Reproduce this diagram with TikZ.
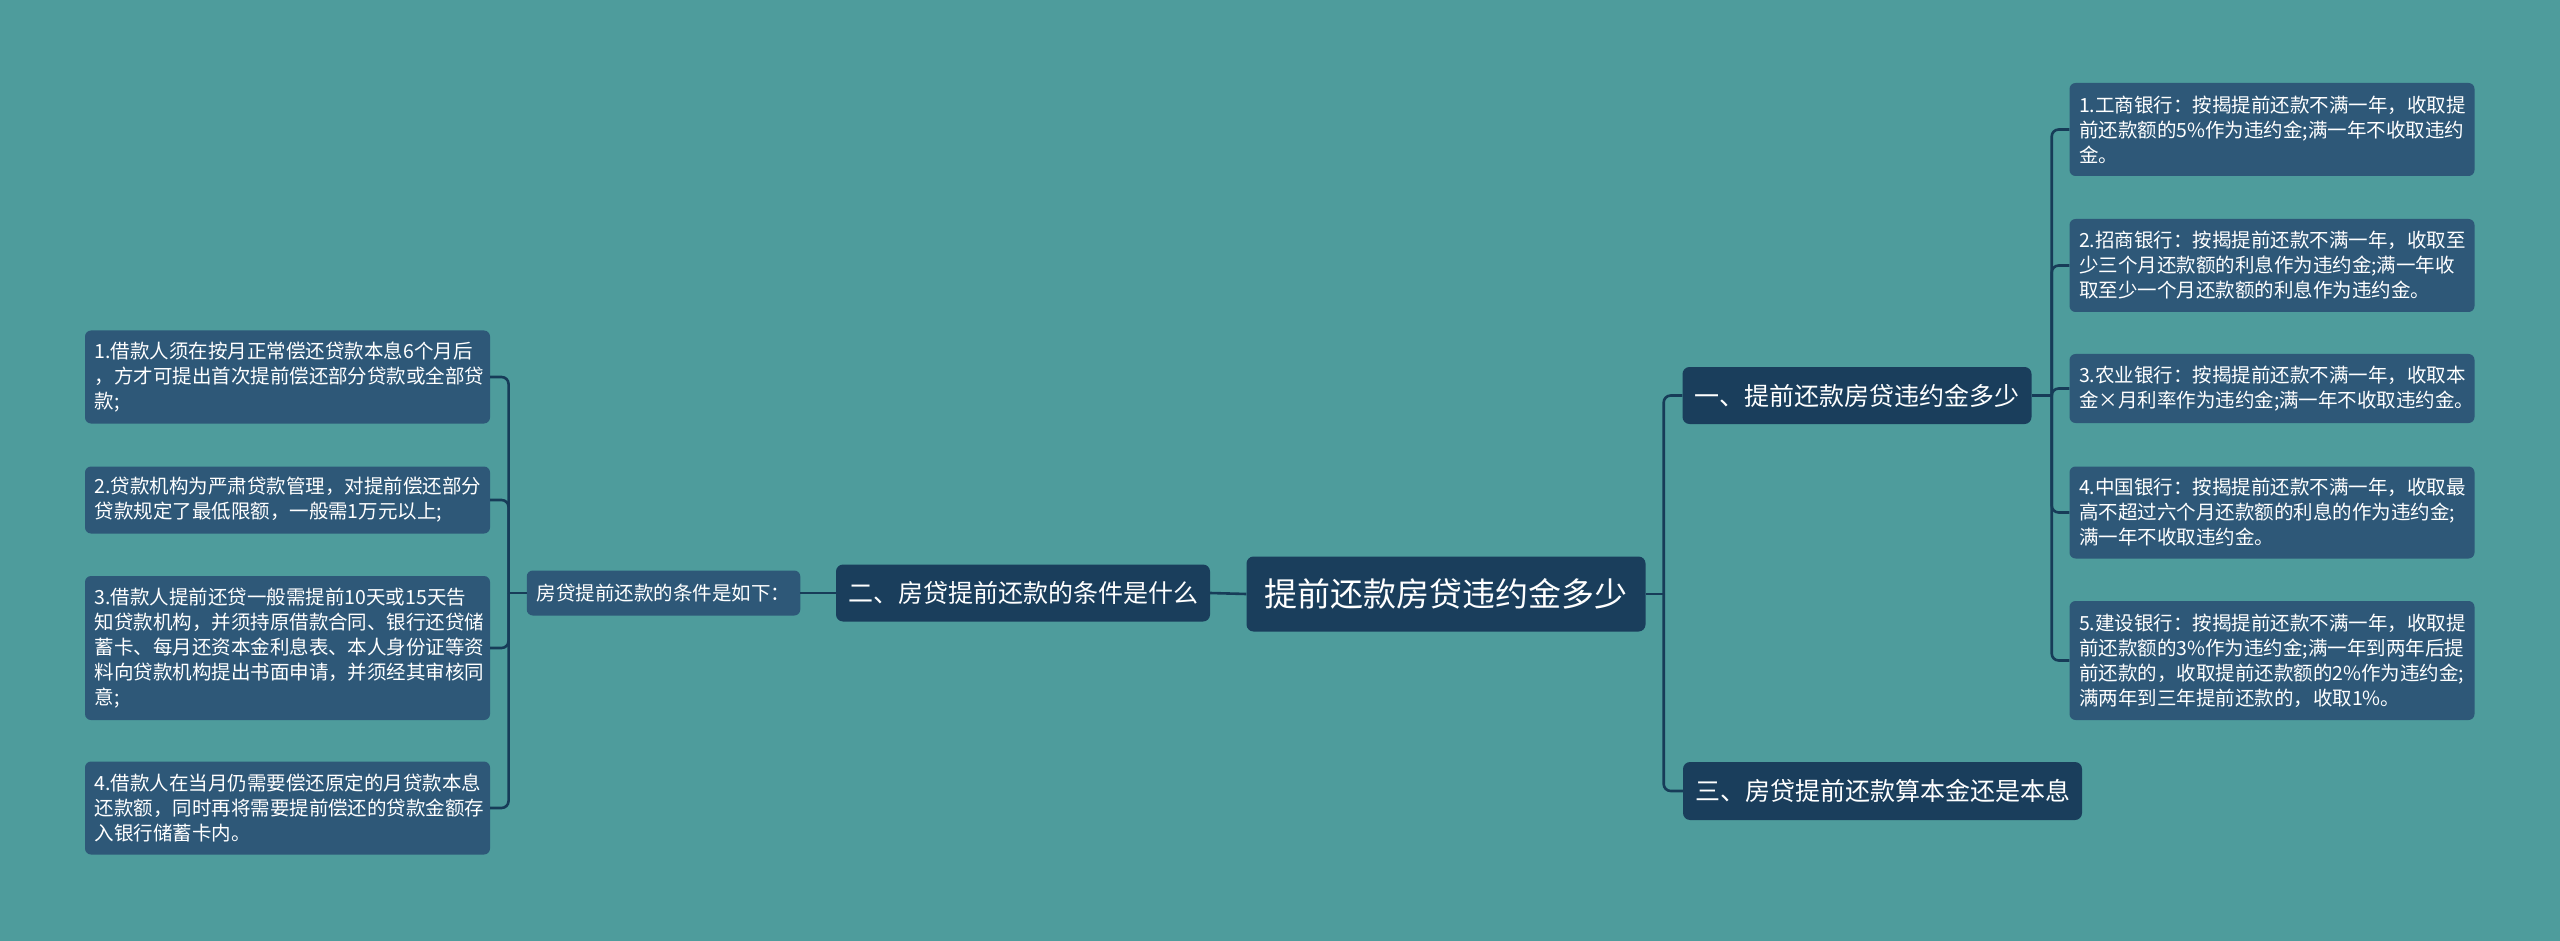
\documentclass[tikz,border=0pt]{standalone}
\usepackage{fontspec}
\setmainfont{Noto Sans CJK SC}
\definecolor{bgteal}{HTML}{4E9C9C}
\definecolor{leafblue}{HTML}{2E5878}
\definecolor{headblue}{HTML}{1A3E5C}
\definecolor{linkblue}{HTML}{173C58}
\tikzset{
  leaf/.style={fill=leafblue,text=white,rounded corners=6pt,align=left,
    text width=386pt,inner xsep=9.5pt,inner ysep=0pt,
    font=\fontsize{19.5pt}{25pt}\selectfont},
  head/.style={fill=headblue,text=white,rounded corners=7pt,inner xsep=12pt,
    inner ysep=0pt,minimum height=57pt,font=\fontsize{25pt}{30pt}\selectfont},
  link/.style={draw=linkblue,line width=2.6pt,rounded corners=7pt}
}
\begin{document}
\begin{tikzpicture}[x=1pt,y=-1pt]
  \fill[bgteal] (0,0) rectangle (2560,941);
  \node[head,minimum height=75pt,inner xsep=18pt,font=\fontsize{33pt}{38pt}\selectfont] (root) at (1446,594) {提前还款房贷违约金多少};
  \node[head] (q2) at (1023,593) {二、房贷提前还款的条件是什么};
  \node[head] (q1) at (1857,395.5) {一、提前还款房贷违约金多少};
  \node[head,minimum height=58pt] (q3) at (1882.5,791) {三、房贷提前还款算本金还是本息};
  \node[leaf,text width=,inner xsep=10pt,minimum height=45pt,rounded corners=6pt] (cond) at (663.5,593) {房贷提前还款的条件是如下：};

  \node[leaf,minimum height=93pt] (c1) at (287.5,377) {1.借款人须在按月正常偿还贷款本息6个月后\\，方才可提出首次提前偿还部分贷款或全部贷\\款;};
  \node[leaf,minimum height=67pt] (c2) at (287.5,500) {2.贷款机构为严肃贷款管理，对提前偿还部分\\贷款规定了最低限额，一般需1万元以上;};
  \node[leaf,minimum height=144pt] (c3) at (287.5,648) {3.借款人提前还贷一般需提前10天或15天告\\知贷款机构，并须持原借款合同、银行还贷储\\蓄卡、每月还资本金利息表、本人身份证等资\\料向贷款机构提出书面申请，并须经其审核同\\意;};
  \node[leaf,minimum height=93pt] (c4) at (287.5,808) {4.借款人在当月仍需要偿还原定的月贷款本息\\还款额，同时再将需要提前偿还的贷款金额存\\入银行储蓄卡内。};

  \node[leaf,minimum height=93pt] (a1) at (2272,129.5) {1.工商银行：按揭提前还款不满一年，收取提\\前还款额的5\%作为违约金;满一年不收取违约\\金。};
  \node[leaf,minimum height=93pt] (a2) at (2272,265.5) {2.招商银行：按揭提前还款不满一年，收取至\\少三个月还款额的利息作为违约金;满一年收\\取至少一个月还款额的利息作为违约金。};
  \node[leaf,minimum height=69pt] (a3) at (2272,388.5) {3.农业银行：按揭提前还款不满一年，收取本\\金×月利率作为违约金;满一年不收取违约金。};
  \node[leaf,minimum height=92pt] (a4) at (2272,512.5) {4.中国银行：按揭提前还款不满一年，收取最\\高不超过六个月还款额的利息的作为违约金;\\满一年不收取违约金。};
  \node[leaf,minimum height=119pt] (a5) at (2272,660.5) {5.建设银行：按揭提前还款不满一年，收取提\\前还款额的3\%作为违约金;满一年到两年后提\\前还款的，收取提前还款额的2\%作为违约金;\\满两年到三年提前还款的，收取1\%。};

  \coordinate (rj) at ([xshift=18pt]root.east);
  \coordinate (qj) at ([xshift=20pt]q1.east);
  \coordinate (lj) at ([xshift=-18pt]cond.west);
  \draw[link] (root.west) -- (q2.east);
  \draw[link] (q2.west) -- (cond.east);
  \draw[link] (root.east) -- (rj);
  \draw[link] (q1.west) -| (rj);
  \draw[link] (q3.west) -| (rj);
  \draw[link] (q1.east) -- (qj);
  \foreach \n in {a1,a2,a3,a4,a5}
    \draw[link] (\n.west) -| (qj);
  \draw[link] (cond.west) -- (lj);
  \foreach \n in {c1,c2,c3,c4}
    \draw[link] (\n.east) -| (lj);
\end{tikzpicture}
\end{document}
